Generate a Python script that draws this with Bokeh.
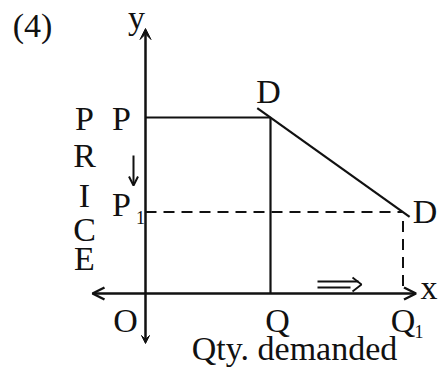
from bokeh.plotting import figure
from bokeh.models import Arrow, VeeHead, OpenHead, Range1d
from bokeh.embed import file_html
from bokeh.resources import INLINE
from bokeh.core.properties import value

# ---- diagram values ----
quantity_labels = ["Q", "Q"]
quantity_subs = ["", "1"]
quantities = [5.0, 10.3]          # Q, Q1
price_labels = ["P", "P"]
price_subs = ["", "1"]
prices = [8.0, 3.7]               # P, P1
price_word = ["P", "R", "I", "C", "E"]
x_title = "Qty. demanded"
panel_label = "(4)"
axis_names = ["x", "y"]
curve_label = "D"

# ---- layout ----
W, H = 443, 376
OX, OY = 145, 293      # origin (O) in page pixels
XS, YS = 25.0, 22.0    # pixels per unit
FONT = value("Liberation Serif")
INK = "#111111"
BIG_FIX = -12          # baseline correction for the 34px text
SUB_FIX = -6

def at(xd, yd, dx=0.0, dy=0.0):
    """data point shifted by pixel offsets (dy positive = downwards)"""
    return xd + dx / XS, yd - dy / YS

p = figure(width=W, height=H, output_backend="svg", toolbar_location=None,
           x_axis_location=None, y_axis_location=None,
           x_range=Range1d(-OX / XS, (W - OX) / XS),
           y_range=Range1d(-(H - OY) / YS, OY / YS),
           min_border=0, outline_line_color=None)
p.grid.visible = False
p.background_fill_color = "white"
p.border_fill_color = "white"

Q, Q1 = quantities
P, P1 = prices

# axes with arrow heads
yb = at(0, 0, 0, 50)[1]
yt = at(0, 0, 0, -265)[1]
p.add_layout(Arrow(x_start=0, y_start=yb, x_end=0, y_end=yt, line_width=2.5, line_color=INK,
                   end=VeeHead(size=11, fill_color=INK, line_color=INK, line_width=1),
                   start=VeeHead(size=8, fill_color=INK, line_color=INK, line_width=1)))
xl = at(0, 0, -53, 0)[0]
xr = at(Q1, 0, 13, 0)[0]
p.add_layout(Arrow(x_start=xl, y_start=0, x_end=xr, y_end=0, line_width=2.5, line_color=INK,
                   end=OpenHead(size=12, line_color=INK, line_width=2.5),
                   start=OpenHead(size=12, line_color=INK, line_width=2.5)))

# solid price/quantity rectangle at P, Q
p.line([0, Q], [P, P], line_width=2.2, line_color=INK)
p.line([Q, Q], [0, P], line_width=2.2, line_color=INK)

# dashed lines at P1, Q1
p.line([0, Q1], [P1, P1], line_width=2, line_color=INK, line_dash="11 7")
p.line([Q1, Q1], [at(0, P1, 0, 9)[1], 0], line_width=2, line_color=INK, line_dash="11 7")

# demand curve D-D through (Q,P) and (Q1,P1), slightly extended
ts = [-0.1, 1.05]
p.line([Q + t * (Q1 - Q) for t in ts], [P + t * (P1 - P) for t in ts],
       line_width=2.2, line_color=INK)

# small direction arrows
ax_ = at(0, P, -12, 38)
ay_ = at(0, P, -12, 68)
p.add_layout(Arrow(x_start=ax_[0], y_start=ax_[1], x_end=ay_[0], y_end=ay_[1],
                   line_width=2, line_color=INK,
                   end=OpenHead(size=9, line_color=INK, line_width=2)))
s1 = at(Q, 0, 47, -12)
e1 = at(Q, 0, 88, -12)
s2 = at(Q, 0, 47, -6)
e2 = at(Q, 0, 80, -6)
p.line([s1[0], e1[0]], [s1[1], e1[1]], line_width=1.8, line_color=INK)
p.line([s2[0], e2[0]], [s2[1], e2[1]], line_width=1.8, line_color=INK)
h1 = at(Q, 0, 82, -16)
h2 = at(Q, 0, 91, -9)
h3 = at(Q, 0, 82, -2)
p.line([h1[0], h2[0], h3[0]], [h1[1], h2[1], h3[1]], line_width=1.8, line_color=INK)

# ---- texts ----
big_t, big_x, big_y = [], [], []
def put(t, xd, yd, dx, dy):
    pt = at(xd, yd, dx, dy + BIG_FIX)
    big_t.append(t); big_x.append(pt[0]); big_y.append(pt[1])

put(panel_label, 0, 0, -113, -256)
put(axis_names[1], 0, yt, -9, 1)
put(axis_names[0], xr, 0, 13, 6)
put(curve_label, Q, P, -2, -14)
put(curve_label, Q1, P1, 22, 11)
word_base = [0, 37, 77, 111, 140]
for ch, b in zip(price_word, word_base):
    put(ch, 0, P, -61, 13 + b)
put(price_labels[0], 0, P, -24, 13)
put(price_labels[1], 0, P1, -24, 4)
put("O", 0, 0, -20, 39)
put(quantity_labels[0], Q, 0, 7, 39)
put(quantity_labels[1], Q1, 0, 0, 39)
put(x_title, Q, 0, 24, 67)

p.text(x=big_x, y=big_y, text=big_t, text_font=FONT, text_font_size="34px",
       text_align="center", text_baseline="alphabetic", text_color=INK)

sub_pts = [at(0, P1, -5, 11 + SUB_FIX), at(Q1, 0, 16, 44 + SUB_FIX)]
p.text(x=[s[0] for s in sub_pts], y=[s[1] for s in sub_pts],
       text=[price_subs[1], quantity_subs[1]], text_font=FONT, text_font_size="18px",
       text_align="center", text_baseline="alphabetic", text_color=INK)

open("out.html", "w").write(file_html(p, INLINE))
